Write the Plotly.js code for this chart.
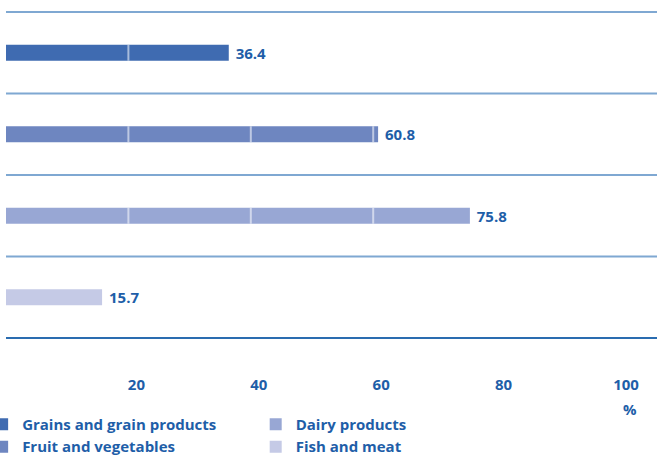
<!DOCTYPE html>
<html><head><meta charset="utf-8">
<script src="https://cdn.plot.ly/plotly-3.0.1.min.js"></script>
<style>html,body{margin:0;padding:0;background:#fff}#chart{width:657px;height:459px}</style>
</head><body><div id="chart"></div>
<script>
const categories = ["Grains and grain products", "Fruit and vegetables", "Dairy products", "Fish and meat"];
const values = [36.4, 60.8, 75.8, 15.7];
const colors = ["#3f6bb1", "#6e86c0", "#98a7d4", "#c5cae6"];
const legendGroup = ["legend", "legend", "legend2", "legend2"];
const tickVals = [20, 40, 60, 80, 100];
const tickText = ["20", "40", "60", "80", "100"];
const gridVals = [20, 40, 60, 80];

const FONT = "'Open Sans', sans-serif";
const BLUE = "#1e5ea8";
const bold15 = {family: FONT, size: 15, color: BLUE, weight: "bold"};
const BARW = 0.195;

const traces = categories.map((c, i) => ({
  type: "bar", orientation: "h",
  y: [c], x: [values[i]], name: c,
  width: BARW,
  marker: {color: colors[i], line: {width: 0}},
  text: [values[i].toFixed(1)],
  texttemplate: " %{text}",
  textposition: "outside",
  constraintext: "none",
  textfont: bold15,
  cliponaxis: false,
  legend: legendGroup[i],
  hoverinfo: "skip"
}));

const shapes = [];
categories.forEach((c, i) => {
  gridVals.filter(v => v < values[i]).forEach(v => shapes.push({type: "line", xref: "x", yref: "y",
    x0: v, x1: v, y0: i - BARW / 2, y1: i + BARW / 2,
    line: {color: "rgba(255,255,255,0.55)", width: 2}, layer: "above"}));
});
for (let k = 0; k <= categories.length; k++) {
  shapes.push({type: "line", xref: "paper", yref: "y", x0: 0, x1: 651/612, y0: k - 0.5, y1: k - 0.5,
    line: {color: k === categories.length ? "#2a6cb0" : "#7fa8d2", width: 2}, layer: "above"});
}

const legendBase = {orientation: "v", y: -0.21, yanchor: "top", xanchor: "left",
  traceorder: "normal", itemwidth: 30, font: bold15, tracegroupgap: 0, bgcolor: "rgba(0,0,0,0)"};

const layout = {
  width: 657, height: 459,
  margin: {l: 6, r: 39, t: 11, b: 120, autoexpand: false},
  paper_bgcolor: "#fff", plot_bgcolor: "#fff",
  barmode: "overlay",
  showlegend: true,
  font: {family: FONT, color: BLUE},
  xaxis: {range: [0, 100], tickvals: tickVals, ticktext: tickText, showgrid: false, zeroline: false,
    showline: false, ticks: "", ticklabelstandoff: 35, ticklabelshift: 8,
    tickfont: bold15, fixedrange: true},
  yaxis: {type: "category", categoryorder: "array", categoryarray: categories, autorange: "reversed",
    showticklabels: false, showgrid: false, zeroline: false, ticks: "", fixedrange: true},
  legend: Object.assign({}, legendBase, {x: -0.039}),
  legend2: Object.assign({}, legendBase, {x: 0.408}),
  annotations: [{xref: "x", yref: "paper", x: 100, y: -0.213, xshift: 12, text: "%", showarrow: false,
    font: bold15, yanchor: "middle"}],
  shapes: shapes
};

Plotly.newPlot("chart", traces, layout, {displayModeBar: false, staticPlot: true});
</script></body></html>
